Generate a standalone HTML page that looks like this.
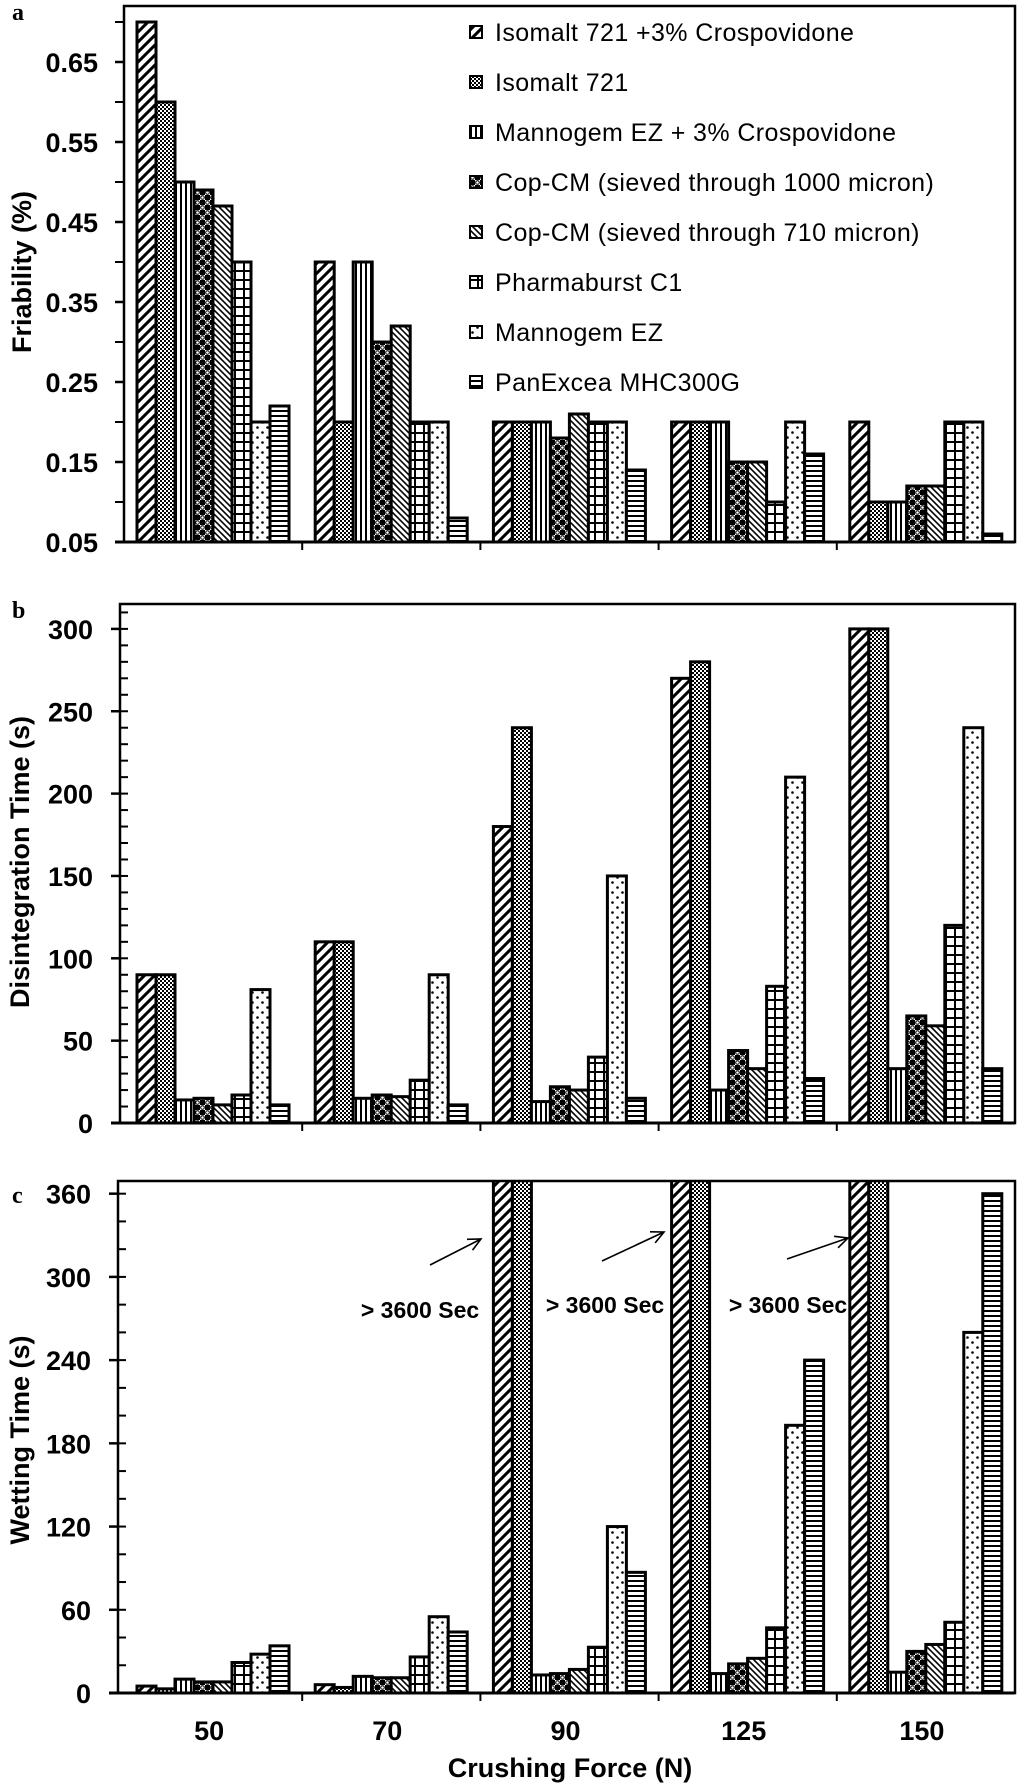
<!DOCTYPE html>
<html><head><meta charset="utf-8">
<style>
html,body{margin:0;padding:0;background:#fff;}
svg{display:block;font-family:"Liberation Sans",Arial,sans-serif;}
.tick{font-weight:bold;font-size:27px;}
.ttl{font-weight:bold;font-size:27px;}
.leg{font-size:25px;letter-spacing:0.4px;}
.ann{font-weight:bold;font-size:23px;}
</style></head><body>
<svg id="chart" width="1024" height="1786" viewBox="0 0 1024 1786" xmlns="http://www.w3.org/2000/svg">
<defs>
<pattern id="p0" patternUnits="userSpaceOnUse" width="10" height="10"><rect width="10" height="10" fill="#fff"/><path d="M-2,12 L12,-2 M-7,7 L7,-7 M3,17 L17,3" stroke="#000" stroke-width="3"/></pattern>
<pattern id="p1" patternUnits="userSpaceOnUse" width="4" height="4"><rect width="4" height="4" fill="#fff"/><rect width="2" height="2" fill="#000"/><rect x="2" y="2" width="2" height="2" fill="#000"/></pattern>
<pattern id="p2" patternUnits="userSpaceOnUse" width="5" height="5"><rect width="5" height="5" fill="#fff"/><rect x="0" width="2" height="5" fill="#000"/></pattern>
<pattern id="p3" patternUnits="userSpaceOnUse" width="10" height="10"><rect width="10" height="10" fill="#fff"/><rect width="5" height="5" fill="#000"/><rect x="5" y="5" width="5" height="5" fill="#000"/><circle cx="7.5" cy="2.5" r="1.8" fill="none" stroke="#000" stroke-width="1"/><circle cx="2.5" cy="7.5" r="1.8" fill="none" stroke="#000" stroke-width="1"/></pattern>
<pattern id="p4" patternUnits="userSpaceOnUse" width="6" height="6"><rect width="6" height="6" fill="#fff"/><path d="M-1,-1 L7,7 M-1,5 L1,7 M5,-1 L7,1" stroke="#000" stroke-width="1.6"/></pattern>
<pattern id="p5" patternUnits="userSpaceOnUse" width="9" height="9"><rect width="9" height="9" fill="#fff"/><rect x="0" width="2" height="9" fill="#000"/><rect y="0" width="9" height="2" fill="#000"/></pattern>
<pattern id="p6" patternUnits="userSpaceOnUse" width="10" height="10"><rect width="10" height="10" fill="#fff"/><circle cx="2.5" cy="2.5" r="1.3" fill="#000"/><circle cx="7.5" cy="7.5" r="1.3" fill="#000"/></pattern>
<pattern id="p7" patternUnits="userSpaceOnUse" width="5" height="5"><rect width="5" height="5" fill="#fff"/><rect y="0" width="5" height="2" fill="#000"/></pattern>
<clipPath id="clipC"><rect x="100" y="1181" width="924" height="520"/></clipPath>
</defs>
<g id="root"></g>
</svg>
<script>
const categories = ["50","70","90","125","150"];
const seriesNames = ["Isomalt 721 +3% Crospovidone","Isomalt 721","Mannogem EZ + 3% Crospovidone","Cop-CM (sieved through 1000 micron)","Cop-CM (sieved through 710 micron)","Pharmaburst C1","Mannogem EZ","PanExcea MHC300G"];
const friability = [
  [0.70,0.60,0.50,0.49,0.47,0.40,0.20,0.22],
  [0.40,0.20,0.40,0.30,0.32,0.20,0.20,0.08],
  [0.20,0.20,0.20,0.18,0.21,0.20,0.20,0.14],
  [0.20,0.20,0.20,0.15,0.15,0.10,0.20,0.16],
  [0.20,0.10,0.10,0.12,0.12,0.20,0.20,0.06]
];
const disintegration = [
  [90,90,14,15,11,17,81,11],
  [110,110,15,17,16,26,90,11],
  [180,240,13,22,20,40,150,15],
  [270,280,20,44,33,83,210,27],
  [300,300,33,65,59,120,240,33]
];
const wetting = [
  [5,3,10,8,8,22,28,34],
  [6,4,12,11,11,26,55,44],
  [3600,3600,13,14,17,33,120,87],
  [3600,3600,14,21,25,47,193,240],
  [3600,3600,15,30,35,51,260,360]
];
const ticksA = ["0.05","0.15","0.25","0.35","0.45","0.55","0.65"];
const ticksB = ["0","50","100","150","200","250","300"];
const ticksC = ["0","60","120","180","240","300","360"];

const NS="http://www.w3.org/2000/svg";
const root=document.getElementById('root');
function mk(tag,attrs,parent){const e=document.createElementNS(NS,tag);for(const k in attrs)e.setAttribute(k,attrs[k]);(parent||root).appendChild(e);return e;}

const X0=124, X1=1015, catW=(X1-X0)/categories.length, barW=19, pad=13;
function xBar(ci,si){return X0+ci*catW+pad+si*barW;}

function panel(cfg){
  const g=mk('g',{});
  
  
  const y=v=>cfg.yBase-(v-cfg.vMin)*cfg.ppu;
  const bg=mk('g',cfg.clip?{'clip-path':'url(#clipC)'}:{},g);
  cfg.data.forEach((vals,ci)=>{
    vals.forEach((v,si)=>{
      const top=Math.max(y(v),cfg.top-5);
      const r=mk('rect',{x:xBar(ci,si),y:top,width:barW,height:cfg.yBase-top,fill:'url(#p'+si+')',stroke:'#000','stroke-width':3},bg);
      
      
    });
  });
  const fr=mk('rect',{x:cfg.left,y:cfg.top,width:X1-cfg.left,height:cfg.yBase-cfg.top,fill:'none',stroke:'#000','stroke-width':2.5},g);
  
  
  mk('line',{x1:cfg.left-9,y1:cfg.yBase,x2:X1,y2:cfg.yBase,stroke:'#000','stroke-width':3},g);
  cfg.ticks.forEach((t,i)=>{
    const yy=y(parseFloat(t));
    mk('line',{x1:cfg.left-9,y1:yy,x2:cfg.left,y2:yy,stroke:'#000','stroke-width':2.5},g);
    const tx=mk('text',{x:cfg.labelRight,y:yy+10,'text-anchor':'end','class':'tick'},g);
    tx.textContent=t;
    
    
  });
  for(let v=cfg.vMin+cfg.minor; v<cfg.vMaxTick-1e-9; v+=cfg.minor){
    const yy=y(v);
    if(cfg.minorOut) mk('line',{x1:cfg.left-9,y1:yy,x2:cfg.left,y2:yy,stroke:'#000','stroke-width':2},g);
    else mk('line',{x1:cfg.left,y1:yy,x2:cfg.left+8,y2:yy,stroke:'#000','stroke-width':2},g);
  }
  for(let k=1;k<categories.length;k++){
    const xx=X0+k*catW;
    mk('line',{x1:xx,y1:cfg.yBase,x2:xx,y2:cfg.yBase+8,stroke:'#000','stroke-width':2},g);
  }
  const t=mk('text',{x:0,y:0,'text-anchor':'middle','class':'ttl',transform:'translate('+cfg.titleX+','+cfg.titleY+') rotate(-90)'},g);
  t.textContent=cfg.title;
  
  
  const l=mk('text',{x:cfg.letterX,y:cfg.letterY,'font-family':'Liberation Serif,serif','font-weight':'bold','font-size':'24px'},g);
  l.textContent=cfg.letter;
  
  
  return g;
}

panel({name:'friability-panel',short:'friability',data:friability,top:6,yBase:542,left:124,vMin:0.05,ppu:800,ticks:ticksA,minor:0.05,vMaxTick:0.71,minorOut:true,labelRight:98,title:'Friability (%)',titleX:31,titleY:272,letter:'a',letterX:12,letterY:20});
panel({name:'disintegration-panel',short:'disintegration',data:disintegration,top:604,yBase:1123,left:120,vMin:0,ppu:1.647,ticks:ticksB,minor:10,vMaxTick:311,minorOut:false,labelRight:93,title:'Disintegration Time (s)',titleX:29,titleY:862,letter:'b',letterX:12,letterY:618});
panel({name:'wetting-panel',short:'wetting',data:wetting,top:1181,yBase:1693,left:118,vMin:0,ppu:1.387,ticks:ticksC,minor:20,vMaxTick:361,minorOut:false,labelRight:91,title:'Wetting Time (s)',titleX:29,titleY:1440,letter:'c',letterX:12,letterY:1203,clip:true});

categories.forEach((c,ci)=>{
  const t=mk('text',{x:X0+ci*catW+catW/2-4,y:1740,'text-anchor':'middle','class':'tick'});
  t.textContent=c;
  
  
});
const xt=mk('text',{x:570,y:1777,'text-anchor':'middle','class':'ttl'});
xt.textContent='Crushing Force (N)';



const lg=mk('g',{});


seriesNames.forEach((n,i)=>{
  const yy=32+i*50;
  const e=mk('g',{},lg);
  
  
  mk('rect',{x:470,y:yy-6,width:12,height:12,fill:'url(#p'+i+')',stroke:'#000','stroke-width':2},e);
  const t=mk('text',{x:495,y:yy+9,'class':'leg'},e);
  t.textContent=n;
});

const ann=[[420,1318,430,1265,481,1239],[605,1313,602,1261,664,1232],[788,1313,787,1259,848,1238]];
ann.forEach(a=>{
  const t=mk('text',{x:a[0],y:a[1],'text-anchor':'middle','class':'ann'});
  t.textContent='> 3600 Sec';
  
  
  const ang=Math.atan2(a[5]-a[3],a[4]-a[2]);
  const ar=mk('path',{d:'M'+a[2]+','+a[3]+' L'+a[4]+','+a[5]+' M'+(a[4]-14*Math.cos(ang-0.45))+','+(a[5]-14*Math.sin(ang-0.45))+' L'+a[4]+','+a[5]+' L'+(a[4]-14*Math.cos(ang+0.45))+','+(a[5]-14*Math.sin(ang+0.45)),fill:'none',stroke:'#000','stroke-width':1.6});
  
  
});
</script>
</body></html>
